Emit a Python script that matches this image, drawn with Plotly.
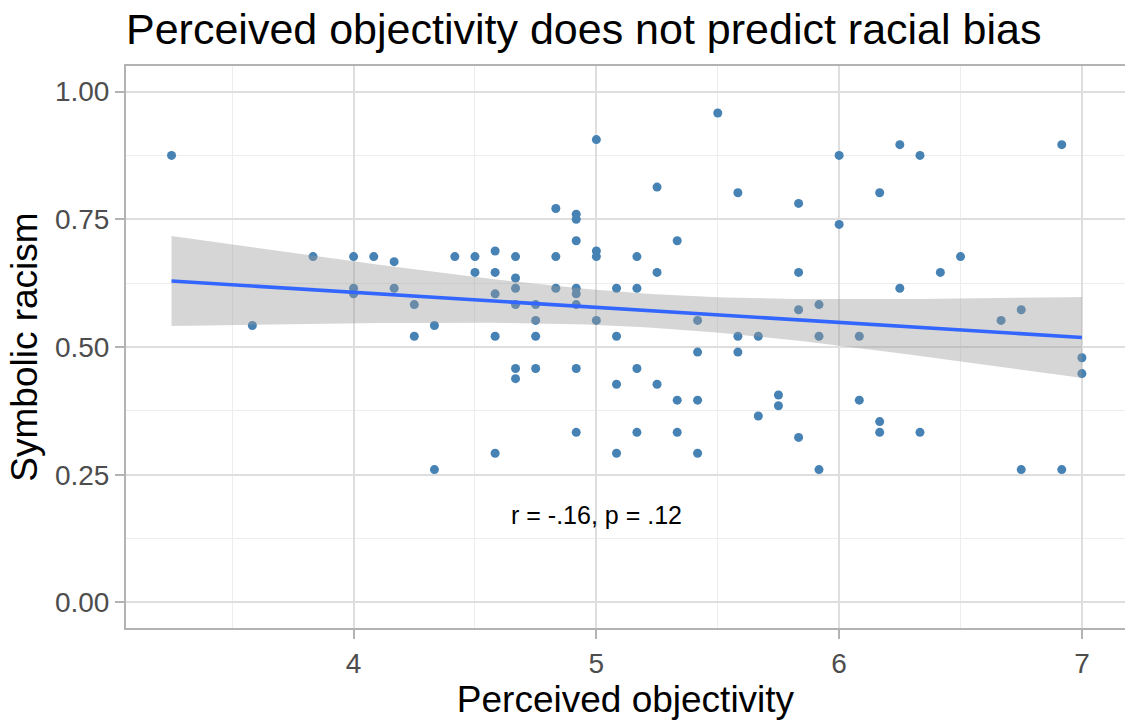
import numpy as np
import plotly.graph_objects as go

# ---- data ----
objectivity = [
    3.25, 3.583, 3.833, 4.0, 4.0, 4.0, 4.083, 4.167, 4.167, 4.25,
    4.25, 4.333, 4.333, 4.417, 4.5, 4.5, 4.583, 4.583, 4.583, 4.583,
    4.583, 4.667, 4.667, 4.667, 4.667, 4.667, 4.667, 4.75, 4.75, 4.75,
    4.75, 4.833, 4.833, 4.833, 4.917, 4.917, 4.917, 4.917, 4.917, 4.917,
    4.917, 4.917, 5.0, 5.0, 5.0, 5.0, 5.083, 5.083, 5.083, 5.083,
    5.167, 5.167, 5.167, 5.167, 5.25, 5.25, 5.25, 5.333, 5.333, 5.333,
    5.417, 5.417, 5.417, 5.417, 5.5, 5.583, 5.583, 5.583, 5.667, 5.667,
    5.75, 5.75, 5.833, 5.833, 5.833, 5.833, 5.917, 5.917, 5.917, 6.0,
    6.0, 6.083, 6.083, 6.167, 6.167, 6.167, 6.25, 6.25, 6.333, 6.333,
    6.417, 6.5, 6.667, 6.75, 6.75, 6.917, 6.917, 7.0, 7.0,
]
symbolic_racism = [
    0.875, 0.542, 0.677, 0.677, 0.615, 0.604, 0.677, 0.667, 0.615, 0.583,
    0.521, 0.542, 0.260, 0.677, 0.677, 0.646, 0.688, 0.646, 0.604, 0.521,
    0.292, 0.677, 0.635, 0.615, 0.583, 0.458, 0.438, 0.583, 0.552, 0.521,
    0.458, 0.771, 0.677, 0.615, 0.760, 0.750, 0.708, 0.615, 0.604, 0.583,
    0.458, 0.333, 0.906, 0.688, 0.677, 0.552, 0.615, 0.521, 0.427, 0.292,
    0.677, 0.615, 0.458, 0.333, 0.813, 0.646, 0.427, 0.708, 0.396, 0.333,
    0.552, 0.490, 0.396, 0.292, 0.958, 0.802, 0.521, 0.490, 0.521, 0.365,
    0.406, 0.385, 0.781, 0.646, 0.573, 0.323, 0.583, 0.521, 0.260, 0.875,
    0.740, 0.521, 0.396, 0.802, 0.354, 0.333, 0.896, 0.615, 0.875, 0.333,
    0.646, 0.677, 0.552, 0.573, 0.260, 0.896, 0.260, 0.479, 0.448,
]
x_ticks = [4, 5, 6, 7]
y_ticks = [0.0, 0.25, 0.5, 0.75, 1.0]
y_tick_labels = ["0.00", "0.25", "0.50", "0.75", "1.00"]
stat_label = "r = -.16, p = .12"

# ---- linear fit with 95% confidence band (like geom_smooth(method="lm")) ----
x = np.array(objectivity)
y = np.array(symbolic_racism)
n = len(x)
slope, intercept = np.polyfit(x, y, 1)
resid = y - (intercept + slope * x)
s = np.sqrt(np.sum(resid ** 2) / (n - 2))
sxx = np.sum((x - x.mean()) ** 2)
T975 = 1.984
xf = np.linspace(x.min(), x.max(), 80)
yf = intercept + slope * xf
se = s * np.sqrt(1.0 / n + (xf - x.mean()) ** 2 / sxx)
lo = yf - T975 * se
hi = yf + T975 * se

FONT = "Liberation Sans, Arial, sans-serif"

fig = go.Figure()
fig.add_trace(go.Scatter(
    x=objectivity, y=symbolic_racism, mode="markers",
    marker=dict(color="#4682B4", size=9, line=dict(width=0)),
    showlegend=False, hoverinfo="x+y",
))
fig.add_trace(go.Scatter(
    x=xf, y=lo, mode="lines", line=dict(width=0, color="rgba(0,0,0,0)"),
    showlegend=False, hoverinfo="skip",
))
fig.add_trace(go.Scatter(
    x=xf, y=hi, mode="lines", line=dict(width=0, color="rgba(0,0,0,0)"),
    fill="tonexty", fillcolor="rgba(153,153,153,0.4)",
    showlegend=False, hoverinfo="skip",
))
fig.add_trace(go.Scatter(
    x=xf, y=yf, mode="lines", line=dict(color="#3366FF", width=3.6),
    showlegend=False, hoverinfo="skip",
))

fig.add_annotation(
    x=5, y=0.172, xref="x", yref="y", text=stat_label, showarrow=False,
    font=dict(family=FONT, size=25, color="black"),
    xanchor="center", yanchor="middle",
)

fig.update_layout(
    width=1125, height=721,
    margin=dict(l=126, r=0, t=66, b=93),
    paper_bgcolor="white", plot_bgcolor="white",
    font=dict(family=FONT),
    title=dict(
        text="Perceived objectivity does not predict racial bias",
        font=dict(family=FONT, size=43, color="black"),
        x=126 / 1125, xref="container", xanchor="left",
        y=1 - 29 / 721, yref="container", yanchor="middle",
    ),
)
fig.update_xaxes(
    range=[3.0625, 7.1775],
    tickvals=x_ticks, ticktext=[str(v) for v in x_ticks],
    tickfont=dict(family=FONT, size=28, color="#4D4D4D"),
    ticks="outside", ticklen=9, tickwidth=1.5, tickcolor="#B3B3B3",
    showgrid=True, gridcolor="#DEDEDE", gridwidth=1.8,
    minor=dict(dtick=0.5, tick0=3.5, showgrid=True, gridcolor="#EDEDED",
               gridwidth=1, ticks=""),
    showline=True, linecolor="#B3B3B3", linewidth=2, mirror=True,
    zeroline=False,
    title=dict(text="Perceived objectivity",
               font=dict(family=FONT, size=37, color="black"), standoff=4),
)
fig.update_yaxes(
    range=[-0.05, 1.05],
    tickvals=y_ticks, ticktext=y_tick_labels,
    tickfont=dict(family=FONT, size=28, color="#4D4D4D"),
    ticks="outside", ticklen=9, tickwidth=1.5, tickcolor="#B3B3B3",
    showgrid=True, gridcolor="#DEDEDE", gridwidth=1.8,
    minor=dict(dtick=0.25, tick0=0.125, showgrid=True, gridcolor="#EDEDED",
               gridwidth=1, ticks=""),
    showline=True, linecolor="#B3B3B3", linewidth=2, mirror=False,
    zeroline=False,
    title=dict(text="Symbolic racism",
               font=dict(family=FONT, size=37, color="black"), standoff=6),
)

fig.write_html("out.html")
